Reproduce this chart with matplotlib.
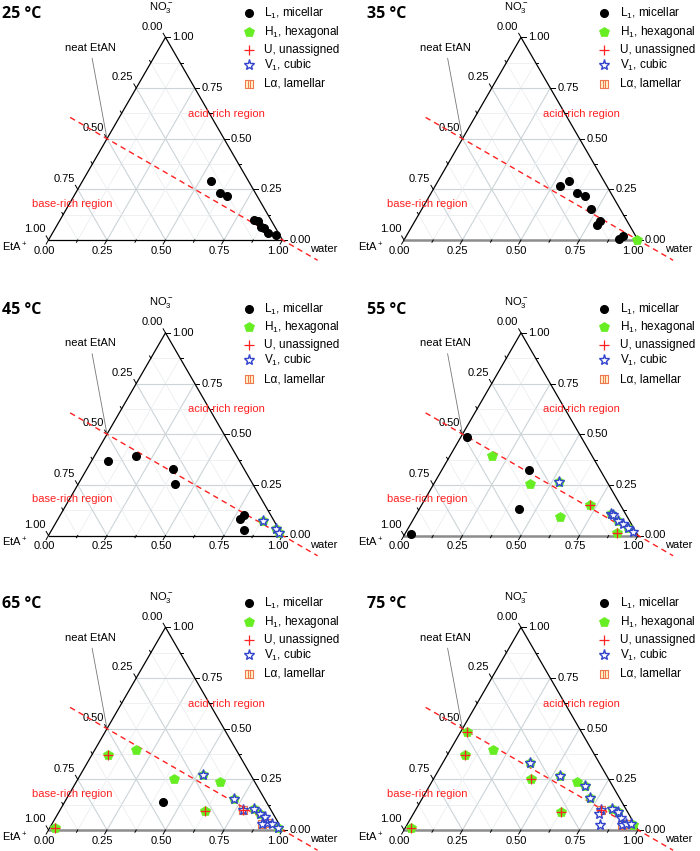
import numpy as np
import matplotlib.pyplot as plt
from matplotlib.path import Path

plt.rcParams['font.family'] = ['Liberation Sans', 'DejaVu Sans']
plt.rcParams['mathtext.fontset'] = 'custom'
plt.rcParams['mathtext.rm'] = 'Liberation Sans'
plt.rcParams['mathtext.it'] = 'Liberation Sans:italic'

# composition points as (water fraction, NO3- fraction)
L1_25 = [(0.55, 0.29), (0.615, 0.232), (0.655, 0.215), (0.828, 0.098), (0.846, 0.095),
         (0.874, 0.066), (0.889, 0.061), (0.921, 0.035), (0.957, 0.027)]

L1_35 = [(0.533, 0.267), (0.558, 0.292), (0.624, 0.234), (0.665, 0.215), (0.723, 0.152),
         (0.792, 0.094), (0.788, 0.073), (0.927, 0.020), (0.914, 0.007)]
H1_35 = [(0.995, 0.002)]

L1_45 = [(0.071, 0.370), (0.179, 0.394), (0.368, 0.328), (0.412, 0.254), (0.786, 0.099),
         (0.777, 0.079), (0.823, 0.026)]
H1_45 = [(0.880, 0.074), (0.957, 0.030), (0.979, 0.013)]
V1_45 = [(0.880, 0.074), (0.957, 0.030), (0.979, 0.013)]

L1_55 = [(0.026, 0.488), (0.371, 0.325), (0.423, 0.133), (0.026, 0.008)]
H1_55 = [(0.180, 0.394), (0.412, 0.254), (0.622, 0.090), (0.720, 0.151), (0.905, 0.010),
         (0.528, 0.266), (0.833, 0.107), (0.878, 0.074), (0.938, 0.038)]
U_55 = [(0.720, 0.151), (0.905, 0.010)]
V1_55 = [(0.528, 0.266), (0.833, 0.107), (0.844, 0.099), (0.878, 0.074), (0.907, 0.058),
         (0.938, 0.038), (0.970, 0.016)]

L1_65 = [(0.420, 0.136)]
H1_65 = [(0.068, 0.370), (0.175, 0.396), (0.410, 0.253), (0.614, 0.237), (0.620, 0.094),
         (0.022, 0.012), (0.524, 0.269), (0.714, 0.154), (0.828, 0.102), (0.865, 0.077),
         (0.976, 0.012)]
U_65 = [(0.068, 0.370), (0.620, 0.094), (0.022, 0.012), (0.784, 0.097)]
V1_65 = [(0.524, 0.269), (0.714, 0.154), (0.784, 0.097), (0.828, 0.102), (0.865, 0.077),
         (0.892, 0.066), (0.914, 0.036), (0.897, 0.028), (0.939, 0.028), (0.976, 0.012)]
La_65 = [(0.784, 0.097), (0.914, 0.036), (0.897, 0.028)]

H1_75 = [(0.028, 0.485), (0.077, 0.368), (0.183, 0.395), (0.416, 0.250), (0.627, 0.090),
         (0.621, 0.239), (0.024, 0.008), (0.964, 0.025), (0.373, 0.329), (0.532, 0.267),
         (0.665, 0.217), (0.717, 0.156), (0.840, 0.102), (0.868, 0.089)]
U_75 = [(0.028, 0.485), (0.077, 0.368), (0.416, 0.250), (0.627, 0.090), (0.024, 0.008),
        (0.792, 0.097)]
V1_75 = [(0.373, 0.329), (0.532, 0.267), (0.665, 0.217), (0.717, 0.156), (0.792, 0.097),
         (0.794, 0.078), (0.825, 0.025), (0.840, 0.102), (0.868, 0.089), (0.896, 0.061),
         (0.918, 0.023), (0.933, 0.028), (0.955, 0.028)]
La_75 = [(0.792, 0.097), (0.918, 0.023), (0.933, 0.028)]

temps = [25, 35, 45, 55, 65, 75]
panels = {
    25: {'L1': L1_25},
    35: {'L1': L1_35, 'H1': H1_35},
    45: {'L1': L1_45, 'H1': H1_45, 'V1': V1_45},
    55: {'L1': L1_55, 'H1': H1_55, 'U': U_55, 'V1': V1_55},
    65: {'L1': L1_65, 'H1': H1_65, 'U': U_65, 'V1': V1_65, 'La': La_65},
    75: {'H1': H1_75, 'U': U_75, 'V1': V1_75, 'La': La_75},
}
ticks = [0.0, 0.25, 0.5, 0.75, 1.0]
tick_labels = ['0.00', '0.25', '0.50', '0.75', '1.00']
phase_labels = ['L$_1$, micellar', 'H$_1$, hexagonal', 'U, unassigned', 'V$_1$, cubic', 'Lα, lamellar']

H3 = np.sqrt(3) / 2


def tern(w, n):
    w = np.asarray(w, float)
    n = np.asarray(n, float)
    return w + n / 2, n * H3


lam_marker = Path([(-1, -1), (1, -1), (1, 1), (-1, 1), (-1, -1),
                   (-0.33, -1), (-0.33, 1), (0.33, -1), (0.33, 1)],
                  [Path.MOVETO, Path.LINETO, Path.LINETO, Path.LINETO, Path.CLOSEPOLY,
                   Path.MOVETO, Path.LINETO, Path.MOVETO, Path.LINETO])

styles = {
    'H1': dict(marker='p', ms=7.5, mfc='#66ee22', mec='#66ee22', mew=0.5, ls='none', zorder=5),
    'La': dict(marker=lam_marker, ms=5.5, mfc='#fff6cc', mec='#f07850', mew=0.8, ls='none', zorder=6),
    'V1': dict(marker='*', ms=8, mfc='white', mec='#3344cc', mew=1.0, ls='none', zorder=7),
    'U': dict(marker='+', ms=6.5, mec='#ff2222', mew=0.9, ls='none', zorder=8),
    'L1': dict(marker='o', ms=5.5, mfc='black', mec='black', ls='none', zorder=9),
}
legend_order = ['L1', 'H1', 'U', 'V1', 'La']

W, H = 700, 851
S = 234.0
origins = [(48.5, 240), (404, 240), (48.5, 535.5), (404, 535.5), (48.5, 830), (404, 830)]
xmin, xmax, ymin, ymax = -0.21, 1.28, -0.2, 1.03

fig = plt.figure(figsize=(7, 8.51), dpi=100)

for k, t in enumerate(temps):
    bx, by = origins[k]
    ax = fig.add_axes([(bx + xmin * S) / W, (H - by + ymin * S) / H,
                       (xmax - xmin) * S / W, (ymax - ymin) * S / H])
    ax.set_xlim(xmin, xmax)
    ax.set_ylim(ymin, ymax)
    ax.axis('off')

    # grid lines
    for g in np.arange(0.125, 1.0, 0.125):
        major = abs(g * 4 - round(g * 4)) < 1e-6
        c = '#ccd4d8' if major else '#ebeef0'
        lw = 0.8 if major else 0.6
        for (w0, n0), (w1, n1) in [((0, g), (1 - g, g)), ((g, 0), (g, 1 - g)),
                                   ((1 - g, 0), (0, 1 - g))]:
            x, y = tern([w0, w1], [n0, n1])
            ax.plot(x, y, color=c, lw=lw, zorder=1)

    # frame
    x, y = tern([0, 1, 0, 0], [0, 0, 1, 0])
    ax.plot(x[1:], y[1:], color='black', lw=0.9, zorder=3)
    if t in (35, 55, 65, 75):
        ax.plot(x[:2], y[:2], color='#8c8c8c', lw=1.8, zorder=3)
    else:
        ax.plot(x[:2], y[:2], color='black', lw=0.9, zorder=3)

    # ticks
    for v in np.arange(0, 1.0001, 0.125):
        ln = 0.02 if abs(v * 4 - round(v * 4)) < 1e-6 else 0.011
        px, py = tern(v, 0)
        ax.plot([px, px - 0.5 * ln], [py, py - H3 * ln], color='black', lw=0.7, zorder=3)
        px, py = tern(1 - v, v)
        ax.plot([px, px + ln], [py, py], color='black', lw=0.7, zorder=3)
        px, py = tern(0, 1 - v)
        ax.plot([px, px - 0.5 * ln], [py, py + H3 * ln], color='black', lw=0.7, zorder=3)

    for v, lab in zip(ticks, tick_labels):
        px, py = tern(v, 0)
        ax.text(px - 0.02, py - 0.045, lab, ha='center', va='center', fontsize=8)
        px, py = tern(1 - v, v)
        ax.text(px + 0.03, py, lab, ha='left', va='center', fontsize=8)
        px, py = tern(0, 1 - v)
        ax.text(px - 0.012, py + 0.046, lab, ha='right', va='center', fontsize=8)

    ax.text(0.48, 0.995, 'NO$_3^-$', ha='center', va='center', fontsize=8)
    ax.text(-0.198, -0.03, 'EtA$^+$', ha='left', va='center', fontsize=8)
    ax.text(1.175, -0.04, 'water', ha='center', va='center', fontsize=8)

    ax.text(-0.198 if k % 2 == 0 else -0.16, 0.965, f'{t} °C', ha='left', va='center',
            fontsize=11.5, fontweight='bold', family=['Open Sans', 'DejaVu Sans'])

    # equimolar (acid/base) line
    we = np.array([-0.21, 1.2])
    x, y = tern(we, (1 - we) / 2)
    ax.plot(x, y, color='#ff2020', lw=1.0, ls=(0, (4, 3)), zorder=4)
    ax.text(0.76, 0.54, 'acid-rich region', color='#ff2020', ha='center', va='center', fontsize=8)
    ax.text(0.1, 0.155, 'base-rich region', color='#ff2020', ha='center', va='center', fontsize=8)

    ex, ey = tern(0, 0.5)
    ax.annotate('neat EtAN', xy=(ex, ey), xytext=(0.178, 0.822), ha='center', va='center',
                fontsize=8, arrowprops=dict(arrowstyle='-', color='#777777', lw=0.6,
                                            shrinkA=2, shrinkB=0))

    # data
    for ph in ['H1', 'La', 'V1', 'U', 'L1']:
        pts = panels[t].get(ph)
        if not pts:
            continue
        w, n = zip(*pts)
        x, y = tern(w, n)
        ax.plot(x, y, **styles[ph])

    # legend
    rows = [0.968, 0.889, 0.812, 0.748, 0.667]
    for ph, lab, ry in zip(legend_order, phase_labels, rows):
        ax.plot([0.855], [ry], clip_on=False, **styles[ph])
        ax.text(0.922, ry, lab, ha='left', va='center', fontsize=8.5)

fig.savefig('out.png', dpi=100)
